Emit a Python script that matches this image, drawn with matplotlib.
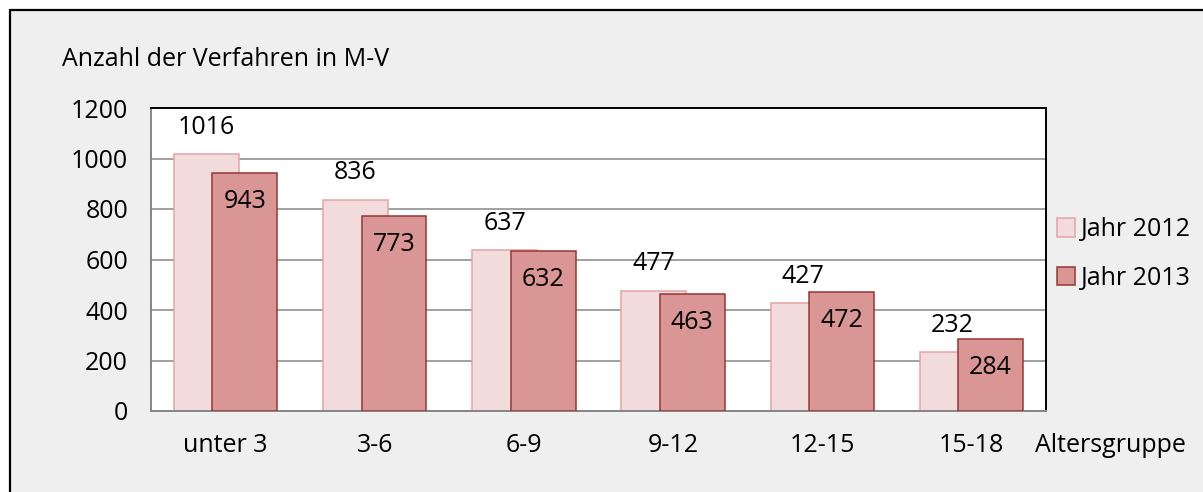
import numpy as np
import matplotlib.pyplot as plt
from matplotlib.patches import Rectangle

plt.rcParams['font.family'] = ['Open Sans', 'DejaVu Sans']

# Daten
categories = ["unter 3", "3-6", "6-9", "9-12", "12-15", "15-18"]
values_2012 = [1016, 836, 637, 477, 427, 232]
values_2013 = [943, 773, 632, 463, 472, 284]
yticks = [0, 200, 400, 600, 800, 1000, 1200]

FS = 18

fig = plt.figure(figsize=(12.03, 4.92), dpi=100)
fig.patch.set_facecolor("white")

# Rahmen / Hintergrund
frame = Rectangle((10 / 1203, -0.1), 1.2, 1 - 10 / 492 + 0.1,
                  transform=fig.transFigure, facecolor="#EFEFEF",
                  edgecolor="black", linewidth=1.6, zorder=0)
fig.patches.append(frame)

ax = fig.add_axes([151 / 1203, 1 - 411 / 492, 895 / 1203, 303 / 492])
ax.set_zorder(2)
ax.set_facecolor("white")

x = np.arange(len(categories))
width = 0.435
shift = 0.129

ax.bar(x - shift, values_2012, width, color="#F2DCDB",
       edgecolor="#E6A3A3", linewidth=1.1, label="Jahr 2012", zorder=2)
ax.bar(x + shift, values_2013, width, color="#D99694",
       edgecolor="#953735", linewidth=1.1, label="Jahr 2013", zorder=3)

for xi, v in zip(x, values_2012):
    ax.annotate(str(v), (xi - shift, v), xytext=(0, 19.5),
                textcoords="offset points", ha="center", va="center",
                fontsize=FS, zorder=4)
for xi, v in zip(x, values_2013):
    ax.annotate(str(v), (xi + shift, v), xytext=(0, -20.5),
                textcoords="offset points", ha="center", va="center",
                fontsize=FS, zorder=4)

ax.set_xlim(-0.5, len(categories) - 0.5)
ax.set_ylim(0, 1200)
ax.set_yticks(yticks)
ax.set_yticklabels([str(t) for t in yticks], fontsize=FS)
ax.set_xticks(x)
ax.set_xticklabels(categories, fontsize=FS)
ax.tick_params(axis="both", length=0)
ax.tick_params(axis="y", pad=16.5)
ax.tick_params(axis="x", pad=16)

ax.grid(axis="y", color="#868686", linewidth=1.1, zorder=1)
ax.set_axisbelow(True)

for side in ["top", "right"]:
    ax.spines[side].set_color("black")
    ax.spines[side].set_linewidth(1.4)
for side in ["left", "bottom"]:
    ax.spines[side].set_color("#868686")
    ax.spines[side].set_linewidth(1.4)

fig.text(62 / 1203, 1 - 60 / 492, "Anzahl der Verfahren in M-V",
         fontsize=FS, ha="left", va="center", zorder=3)
fig.text(1035 / 1203, 1 - 446 / 492, "Altersgruppe",
         fontsize=FS, ha="left", va="center", zorder=3)

leg = ax.legend(loc="center left", bbox_to_anchor=(1.012, 0.518),
                frameon=False, fontsize=FS, handlelength=0.75,
                handleheight=0.75, handletextpad=0.2, labelspacing=0.95,
                borderpad=0, borderaxespad=0)

fig.savefig("out.png", dpi=100, facecolor=fig.get_facecolor())
